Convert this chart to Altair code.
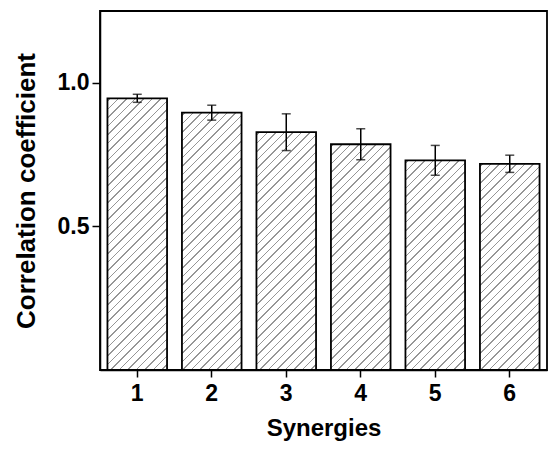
import altair as alt

# ---- data ----
synergies = ["1", "2", "3", "4", "5", "6"]
corr_mean = [0.946, 0.896, 0.828, 0.786, 0.730, 0.718]
corr_err = [0.014, 0.026, 0.064, 0.054, 0.052, 0.030]

# ---- layout / style constants ----
W, H = 447, 359
Y_MAX = 1.25
BAND_PAD_INNER = 0.2
BAND_PAD_OUTER = 0.1
HATCH_STEP = 8.5      # horizontal distance between hatch lines (px)
HATCH_LW = 1.6        # hatch line thickness measured along x+y (px)
HATCH_COLOR = "#969696"
FONT = "Liberation Sans"


def hatch_gradient(value):
    """A striped linear gradient drawing '/' hatching inside one bar."""
    step = W / (len(synergies) - BAND_PAD_INNER + 2 * BAND_PAD_OUTER)
    w = step * (1 - BAND_PAD_INNER)
    h = value / Y_MAX * H
    p = w + h
    d = w * w + h * h
    stops = [{"offset": 0, "color": "white"}]
    pos = 2.0
    while pos < p:
        a = pos / p
        b = min((pos + HATCH_LW) / p, 1)
        stops += [
            {"offset": a, "color": "white"},
            {"offset": a, "color": HATCH_COLOR},
            {"offset": b, "color": HATCH_COLOR},
            {"offset": b, "color": "white"},
        ]
        pos += HATCH_STEP
    stops.append({"offset": 1, "color": "white"})
    return {"gradient": "linear", "x1": 0, "y1": 0,
            "x2": w * p / d, "y2": h * p / d, "stops": stops}


records = [
    {"syn": s, "mean": m, "lo": m - e, "hi": m + e, "grad": hatch_gradient(m)}
    for s, m, e in zip(synergies, corr_mean, corr_err)
]
data = alt.Data(values=records)

x_enc = alt.X(
    "syn:N",
    sort=synergies,
    scale=alt.Scale(paddingInner=BAND_PAD_INNER, paddingOuter=BAND_PAD_OUTER),
    axis=alt.Axis(
        title="Synergies", labelAngle=0, labelFontSize=23, labelFontWeight="bold",
        labelFont=FONT, labelColor="black", labelPadding=5,
        titleFontSize=24, titleFontWeight="bold", titleFont=FONT, titleColor="black",
        titlePadding=11, tickSize=7, tickWidth=1.5, tickColor="black",
        domainColor="black", domainWidth=1.5,
    ),
)

y_scale = alt.Scale(domain=[0, Y_MAX], nice=False, zero=True)
y_axis = alt.Axis(
    title="Correlation coefficient", values=[0.5, 1.0], format=".1f",
    labelFontSize=23, labelFontWeight="bold", labelFont=FONT, labelColor="black",
    labelPadding=3, tickSize=8, tickWidth=1.5, tickColor="black",
    domainColor="black", domainWidth=1.5, grid=False,
    titleFontSize=26, titleFontWeight="bold", titleFont=FONT, titleColor="black",
    titlePadding=18,
)

bars = alt.Chart(data).mark_bar(stroke="black", strokeWidth=1.8).encode(
    x=x_enc,
    y=alt.Y("mean:Q", scale=y_scale, axis=y_axis),
    fill=alt.Fill("grad:N", scale=None),
)

err_rule = alt.Chart(data).mark_rule(color="black", strokeWidth=1.5).encode(
    x=alt.X("syn:N", sort=synergies),
    y="lo:Q",
    y2="hi:Q",
)
err_lo = alt.Chart(data).mark_tick(color="black", size=9, thickness=1.5).encode(
    x=alt.X("syn:N", sort=synergies), y="lo:Q"
)
err_hi = alt.Chart(data).mark_tick(color="black", size=9, thickness=1.5).encode(
    x=alt.X("syn:N", sort=synergies), y="hi:Q"
)

chart = (
    alt.layer(bars, err_rule, err_lo, err_hi)
    .properties(
        width=W, height=H,
        autosize=alt.AutoSizeParams(type="none"),
        padding={"left": 100, "top": 11, "right": 2, "bottom": 79},
        background="white",
    )
    .configure_view(stroke="black", strokeWidth=1.8)
)

chart.save("out.html", embed_options={"renderer": "svg", "actions": False})
